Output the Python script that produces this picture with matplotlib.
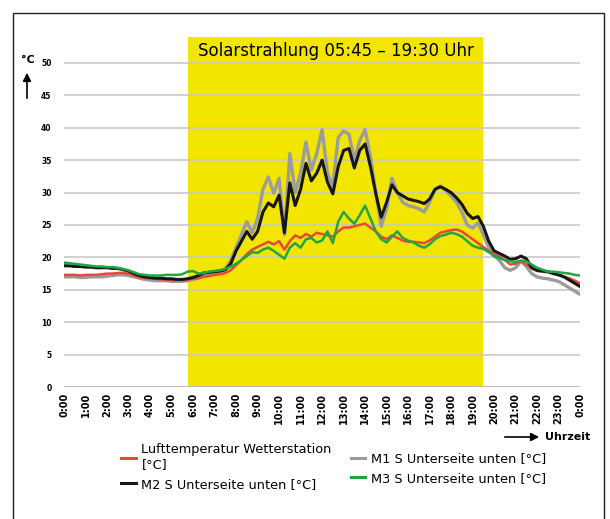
import matplotlib
matplotlib.use("Agg")
import matplotlib.pyplot as plt
from matplotlib.lines import Line2D
from matplotlib.patches import Rectangle
import numpy as np

# Messwerte im 15-Minuten-Takt, 0:00 bis 24:00
zeit = np.arange(0, 24.01, 0.25)

luft = [17.3, 17.3, 17.3, 17.2, 17.3, 17.3, 17.3, 17.4, 17.5,
        17.5, 17.6, 17.6, 17.5, 17.2, 16.9, 16.8, 16.7,
        16.7, 16.6, 16.6, 16.5, 16.5, 16.5, 16.6, 16.7,
        16.8, 17.0, 17.1, 17.3, 17.4, 17.6, 18.0, 18.8,
        19.6, 20.5, 21.2, 21.6, 22.0, 22.4, 22.0, 22.5,
        21.2, 22.5, 23.4, 23.0, 23.6, 23.2, 23.8, 23.6,
        23.4, 23.2, 24.0, 24.6, 24.6, 24.8, 25.0, 25.2,
        24.6, 24.0, 23.2, 22.8, 23.4, 23.0, 22.6, 22.4,
        22.4, 22.3, 22.2, 22.6, 23.2, 23.8, 24.0, 24.2,
        24.3, 24.0, 23.4, 22.8, 22.2, 21.6, 21.0, 20.5,
        20.1, 19.6, 18.9, 19.0, 19.4, 18.9, 18.3, 17.9,
        17.8, 17.7, 17.6, 17.3, 17.0, 16.8, 16.4, 16.0]

m1 = [17.0, 17.0, 17.0, 16.9, 16.9, 17.0, 17.0, 17.0, 17.1,
      17.2, 17.3, 17.3, 17.2, 17.0, 16.8, 16.6, 16.5,
      16.4, 16.4, 16.4, 16.3, 16.3, 16.3, 16.4, 16.6,
      16.8, 17.2, 17.5, 17.7, 17.9, 18.2, 19.5, 21.5,
      23.5, 25.5, 23.8, 26.0, 30.5, 32.4, 29.9, 32.2,
      23.5, 36.0, 30.0, 33.0, 37.8, 33.5, 36.0, 39.7,
      33.0, 31.0, 38.5, 39.5, 39.0, 35.0, 38.0, 39.7,
      35.5, 30.0, 24.8, 27.5, 32.2, 30.0, 28.5, 28.0,
      27.8, 27.5, 27.0, 28.5, 30.5, 31.0, 30.3, 29.5,
      28.5, 27.0, 25.0, 24.5, 25.3, 23.5, 21.5, 20.3,
      19.5, 18.4, 18.0, 18.4, 19.4, 18.6, 17.5, 17.0,
      16.8, 16.7, 16.5, 16.3, 15.8, 15.3, 14.8, 14.3]

m2 = [18.7, 18.7, 18.6, 18.6, 18.5, 18.5, 18.4, 18.4, 18.4,
      18.3, 18.3, 18.1, 17.9, 17.5, 17.2, 17.0, 16.9,
      16.8, 16.8, 16.7, 16.7, 16.6, 16.6, 16.7, 16.9,
      17.2, 17.6, 17.7, 17.8, 17.9, 18.1, 19.0, 21.0,
      22.5, 24.0, 22.8, 24.0, 27.0, 28.4, 27.8, 29.6,
      23.8, 31.5, 28.0, 30.5, 34.5, 31.8, 33.0, 35.0,
      31.6, 29.8, 34.0, 36.5, 36.8, 33.8, 36.5, 37.5,
      34.0, 29.8, 26.2, 28.5, 31.2, 30.0, 29.5, 29.0,
      28.8, 28.6, 28.3, 29.0, 30.5, 30.9, 30.5, 30.0,
      29.2, 28.2, 26.8, 26.0, 26.3, 24.8, 22.5, 21.0,
      20.6, 20.2, 19.7, 19.8, 20.2, 19.8, 18.4, 18.0,
      17.9, 17.8, 17.5, 17.3, 17.0, 16.5, 16.0, 15.5]

m3 = [19.2, 19.1, 19.0, 18.9, 18.8, 18.7, 18.6, 18.6, 18.5,
      18.5, 18.4, 18.2, 18.0, 17.7, 17.4, 17.3, 17.2,
      17.2, 17.2, 17.3, 17.3, 17.3, 17.4, 17.8, 17.9,
      17.5, 17.6, 17.8, 17.9, 18.0, 18.2, 18.6, 19.0,
      19.6, 20.2, 20.8, 20.7, 21.2, 21.5, 21.0, 20.4,
      19.8, 21.5, 22.2, 21.5, 22.8, 23.0, 22.3, 22.6,
      24.0, 22.2, 25.5, 27.0, 26.0, 25.2, 26.5, 28.0,
      26.0, 24.0, 22.8, 22.3, 23.2, 24.0, 23.0, 22.6,
      22.3, 21.8, 21.5, 22.0, 22.8, 23.3, 23.5, 23.8,
      23.6, 23.2, 22.5, 21.8, 21.5, 21.3, 20.8, 20.2,
      19.9, 19.6, 19.4, 19.3, 19.5, 19.4, 18.9, 18.4,
      18.1, 17.8, 17.8, 17.7, 17.6, 17.5, 17.3, 17.2]

stunden = list(range(25))
stunden_labels = [f"{h % 24}:00" for h in stunden]
y_ticks = list(range(0, 51, 5))
sonne_von, sonne_bis = 5.75, 19.5

GELB = "#f2e500"
ROT = "#e8473b"
GRAU = "#9c9c9c"
SCHWARZ = "#161616"
GRUEN = "#22a544"

fig = plt.figure(figsize=(6.10, 5.19), dpi=100)
ax = fig.add_axes([0.105, 0.2543, 0.846, 0.6744])

ax.axvspan(sonne_von, sonne_bis, color=GELB, zorder=0, lw=0)
ax.set_xlim(0, 24)
ax.set_ylim(0, 54)
for v in y_ticks[1:]:
    ax.axhline(v, color="#c9c9c9", lw=1.2, zorder=0.5)
ax.axhline(0, color="#b5b5b5", lw=1.3, zorder=0.5)

ax.plot(zeit, m1, color=GRAU, lw=2.4, zorder=2)
ax.plot(zeit, m2, color=SCHWARZ, lw=2.2, zorder=3)
ax.plot(zeit, luft, color=ROT, lw=1.8, zorder=2.5)
ax.plot(zeit, m3, color=GRUEN, lw=1.8, zorder=4)

for s in ax.spines.values():
    s.set_visible(False)
ax.set_xticks(stunden)
ax.set_xticklabels(stunden_labels, rotation=90, fontsize=7, fontweight="bold")
ax.set_yticks(y_ticks)
ax.set_yticklabels([str(v) for v in y_ticks], fontsize=5.5, fontweight="bold")
ax.tick_params(length=0, pad=4)
ax.tick_params(axis="y", pad=9)

ax.text((sonne_von + sonne_bis) / 2, 51.8, "Solarstrahlung 05:45 – 19:30 Uhr",
        ha="center", va="center", fontsize=12)

# Achsbeschriftungen mit Pfeilen
fig.text(28 / 610, 1 - 60 / 519, "°C", ha="center", va="center",
         fontsize=8, fontweight="bold")
ax.annotate("", xy=(27 / 610, 1 - 70 / 519), xytext=(27 / 610, 1 - 101 / 519),
            xycoords="figure fraction", textcoords="figure fraction",
            arrowprops=dict(arrowstyle="-|>", color="black", lw=1.2,
                            mutation_scale=12))
ax.annotate("", xy=(542 / 610, 1 - 437 / 519), xytext=(502 / 610, 1 - 437 / 519),
            xycoords="figure fraction", textcoords="figure fraction",
            arrowprops=dict(arrowstyle="-|>", color="black", lw=1.2,
                            mutation_scale=12))
fig.text(545 / 610, 1 - 437 / 519, "Uhrzeit", ha="left", va="center",
         fontsize=8, fontweight="bold")

handles = [Line2D([], [], color=ROT, lw=2.2),
           Line2D([], [], color=SCHWARZ, lw=2.2),
           Line2D([], [], color=GRAU, lw=2.2),
           Line2D([], [], color=GRUEN, lw=2.2)]
labels = ["Lufttemperatur Wetterstation\n[°C]",
          "M2 S Unterseite unten [°C]",
          "M1 S Unterseite unten [°C]",
          "M3 S Unterseite unten [°C]"]
fig.legend(handles, labels, ncol=2, frameon=False, fontsize=9.3,
           loc="upper left", bbox_to_anchor=(115 / 610, 1 - 437 / 519),
           handlelength=1.1, handletextpad=0.45, columnspacing=1.5,
           labelspacing=0.5, borderpad=0)

fig.add_artist(Rectangle((13 / 610, -0.02), 591 / 610, 1.02 - 13 / 519,
                         transform=fig.transFigure, fill=False,
                         edgecolor="#222222", lw=1.0))

fig.savefig("out.png", dpi=100)
